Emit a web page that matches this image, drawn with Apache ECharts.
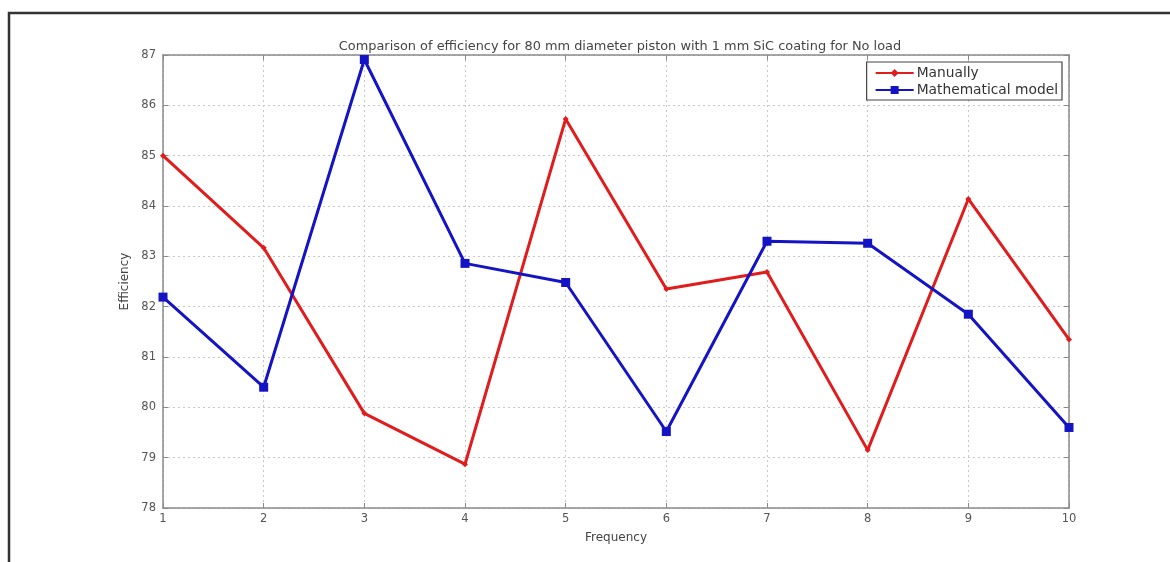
<!DOCTYPE html>
<html>
<head>
<meta charset="utf-8">
<script src="https://cdn.jsdelivr.net/npm/echarts@6/dist/echarts.min.js"></script>
<style>
html,body{margin:0;padding:0;background:#fff;}
#chart{width:1170px;height:562px;}
</style>
</head>
<body>
<div id="chart"></div>
<script>
const frequency = [1, 2, 3, 4, 5, 6, 7, 8, 9, 10];
const manually = [85.0, 83.17, 79.88, 78.87, 85.73, 82.35, 82.69, 79.15, 84.14, 81.35];
const mathModel = [82.19, 80.4, 86.91, 82.86, 82.48, 79.52, 83.3, 83.26, 81.85, 79.6];
const xTicks = [1, 10, 1];   // min, max, interval
const yTicks = [78, 87, 1];

const pairs = (xs, ys) => xs.map((x, i) => [x, ys[i]]);
const axisCol = '#8a8a8a';
const txtCol = '#555';
const font = 'DejaVu Sans';

const chart = echarts.init(document.getElementById('chart'), null, {renderer: 'canvas'});
chart.setOption({
  backgroundColor: '#fff',
  animation: false,
  title: {
    text: 'Comparison of efficiency for 80 mm diameter piston with 1 mm SiC coating for No load',
    left: 615, top: 35, textAlign: 'center',
    textStyle: {fontFamily: font, fontSize: 12.9, fontWeight: 'normal', color: '#444'}
  },
  grid: {left: 163, right: 101, top: 55, bottom: 54},
  legend: {
    orient: 'vertical', right: 108, top: 62,
    backgroundColor: '#fff', borderColor: '#444', borderWidth: 1.2,
    padding: [4, 4, 3, 8], itemGap: 3, itemWidth: 38, itemHeight: 10,
    textStyle: {fontFamily: font, fontSize: 13.8, color: '#333', padding: [0,0,0,-2]},
    data: ['Manually', 'Mathematical model']
  },
  xAxis: [{
    type: 'value', min: xTicks[0], max: xTicks[1], interval: xTicks[2],
    name: 'Frequency', nameLocation: 'middle', nameGap: 24,
    nameTextStyle: {fontFamily: font, fontSize: 12, color: '#444'},
    axisLine: {lineStyle: {color: axisCol, width: 1.5}},
    axisTick: {inside: true, length: 5, lineStyle: {color: axisCol}},
    axisLabel: {fontFamily: font, fontSize: 11.5, color: txtCol, margin: 5},
    splitLine: {show: true, lineStyle: {color: '#c8c8c8', type: [2, 3], width: 1}}
  }, {
    type: 'value', position: 'top', min: xTicks[0], max: xTicks[1], interval: xTicks[2],
    axisLine: {show: true, lineStyle: {color: axisCol, width: 1.5}},
    axisTick: {inside: true, length: 5, lineStyle: {color: axisCol}},
    axisLabel: {show: false}, splitLine: {show: false}
  }],
  yAxis: [{
    type: 'value', min: yTicks[0], max: yTicks[1], interval: yTicks[2],
    name: 'Efficiency', nameLocation: 'middle', nameGap: 31, nameRotate: 90,
    nameTextStyle: {fontFamily: font, fontSize: 12, color: '#444'},
    axisLine: {show: true, lineStyle: {color: axisCol, width: 1.5}},
    axisTick: {show: true, inside: true, length: 5, lineStyle: {color: axisCol}},
    axisLabel: {fontFamily: font, fontSize: 11.5, color: txtCol, margin: 7},
    splitLine: {show: true, lineStyle: {color: '#c8c8c8', type: [2, 3], width: 1}}
  }, {
    type: 'value', position: 'right', min: yTicks[0], max: yTicks[1], interval: yTicks[2],
    axisLine: {show: true, lineStyle: {color: axisCol, width: 1.5}},
    axisTick: {show: true, inside: true, length: 5, lineStyle: {color: axisCol}},
    axisLabel: {show: false}, splitLine: {show: false}
  }],
  series: [{
    name: 'Manually', type: 'line', data: pairs(frequency, manually),
    xAxisIndex: 0, yAxisIndex: 0,
    symbol: 'diamond', symbolSize: 6, showAllSymbol: true,
    lineStyle: {color: '#e01c1c', width: 3},
    itemStyle: {color: '#e01c1c'}
  }, {
    name: 'Mathematical model', type: 'line', data: pairs(frequency, mathModel),
    xAxisIndex: 0, yAxisIndex: 0,
    symbol: 'rect', symbolSize: 9, showAllSymbol: true,
    lineStyle: {color: '#1414c4', width: 3},
    itemStyle: {color: '#1414c4'}
  }],
  graphic: [{
    type: 'polyline', silent: true,
    shape: {points: [[9, 562], [9, 13], [1170, 13]]},
    style: {stroke: '#333', lineWidth: 2.5, fill: null}
  }]
});
</script>
</body>
</html>
